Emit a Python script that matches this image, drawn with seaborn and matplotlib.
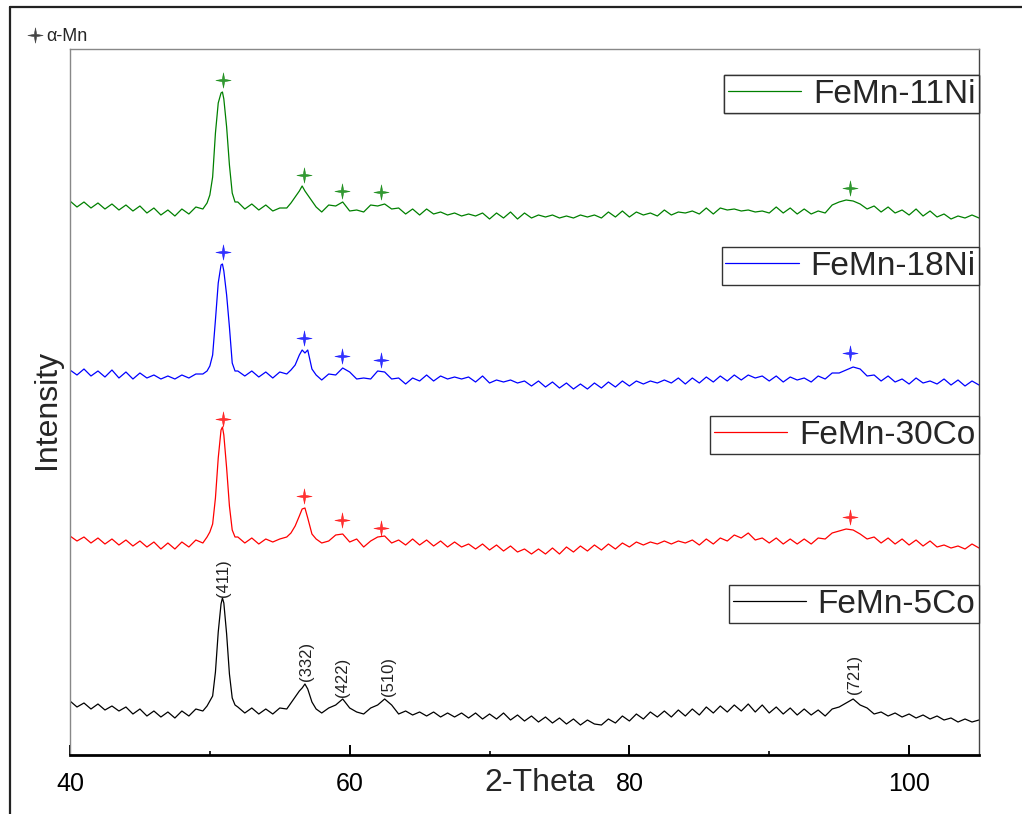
import numpy as np
import pandas as pd
import matplotlib
matplotlib.use("Agg")
import matplotlib.pyplot as plt
import seaborn as sns
from matplotlib.path import Path
from matplotlib.lines import Line2D
from matplotlib.ticker import MultipleLocator

# sample grid (2-theta, degrees)
TWO_THETA = np.round(np.concatenate([
    np.arange(40.0, 49.6, 0.5),
    [49.8, 50.0, 50.2, 50.4, 50.6, 50.8, 50.9, 51.0, 51.2, 51.4, 51.6, 51.8],
    np.arange(52.0, 55.6, 0.5),
    [55.8, 56.1, 56.4, 56.6, 56.8, 57.0, 57.3, 57.6],
    np.arange(58.0, 105.1, 0.5),
]), 1)

SAMPLES = ["FeMn-5Co", "FeMn-30Co", "FeMn-18Ni", "FeMn-11Ni"]
COLORS = ["#000000", "#ff0000", "#0000ff", "#008000"]
OFFSETS = [45, 215, 380, 550]

# intensities (relative to each pattern's own baseline)
FEMN_5CO = [
    9, 3, 7, 1, 6, 0, 4, -1, 3, -4, 1, -6, -1, -7, -2, -8, -1, -6, 1, -1,
    4, 9, 14, 38, 78, 106, 112, 107, 76, 36, 12, 5,
    3, -3, 2, -4, 1, -4, 2, 1,
    7, 13, 19, 22, 26, 21, 8, 1,
    -3, 2, 5, 11, 2, -2, -4, 2, 5, 11,
    5, -4, -1, -5, -2, -6, -2, -7, -3, -7,
    -3, -8, -3, -9, -4, -9, -3, -10, -5, -11,
    -6, -12, -7, -13, -8, -14, -9, -15, -10, -14,
    -15, -9, -13, -6, -11, -4, -9, -2, -7, -1,
    -7, 0, -6, 1, -5, 3, -3, 4, -2, 5,
    -1, 6, -2, 5, -3, 3, -4, 2, -5, 1,
    -5, 0, -6, 1, 3, 7, 11, 5, 2, -4,
    -2, -6, -3, -7, -4, -8, -5, -9, -6, -10,
    -8, -12, -9, -12, -10,
]
FEMN_30CO = [
    4, -1, 3, -3, 2, -4, 1, -5, 0, -6, -1, -7, -2, -9, -3, -9, -2, -7, 0, -3,
    3, 8, 16, 42, 82, 110, 113, 105, 72, 34, 10, 3,
    3, -3, 2, -4, 1, -2, 1, 3,
    7, 14, 24, 31, 32, 22, 6, 1,
    -3, -1, 5, 6, -2, 1, -7, -1, 3, 4,
    -3, 0, -5, 1, -5, 0, -6, -1, -7, -2,
    -7, -4, -9, -4, -10, -5, -11, -6, -12, -9,
    -14, -9, -14, -8, -14, -7, -12, -6, -11, -5,
    -10, -4, -9, -3, -7, -2, -5, -2, -4, -1,
    -4, -1, -3, 0, -5, 1, -4, 2, -1, 5,
    2, 7, 0, 2, -3, 2, -4, 1, -4, 1,
    -4, 2, 1, 7, 9, 11, 10, 6, 1, 3,
    -3, 2, -4, 1, -5, 0, -6, -1, -7, -5,
    -8, -6, -9, -4, -8,
]
FEMN_18NI = [
    5, 0, 6, -1, 4, -2, 5, -3, 3, -4, 2, -3, 0, -4, -1, -4, 0, -3, 1, 1,
    4, 9, 20, 55, 92, 110, 111, 104, 80, 48, 12, 4,
    4, -1, 4, -2, 3, -3, 3, 1,
    5, 10, 20, 25, 22, 25, 6, 0,
    -5, 1, 0, 7, 3, -4, -3, -4, 4, 3,
    -4, -3, -9, -3, -6, 0, -6, -1, -4, -2,
    -4, -2, -7, -1, -8, -5, -7, -5, -8, -6,
    -11, -6, -12, -7, -13, -8, -14, -9, -14, -8,
    -13, -7, -12, -6, -11, -6, -9, -6, -8, -5,
    -8, -3, -9, -3, -8, -2, -7, -1, -6, 0,
    -5, 0, -3, -1, -6, -1, -7, -2, -5, -3,
    -7, -1, -4, 2, 2, 5, 8, 6, -1, 0,
    -6, -1, -7, -4, -9, -3, -8, -6, -9, -4,
    -10, -5, -11, -6, -10,
]
FEMN_11NI = [
    4, -2, 3, -3, 2, -4, 1, -5, 0, -6, -1, -8, -3, -10, -5, -11, -4, -9, -2, -4,
    2, 10, 28, 72, 102, 112, 113, 106, 78, 40, 12, 3,
    3, -4, 1, -5, 0, -6, -3, -3,
    2, 8, 14, 19, 14, 10, 4, -2,
    -7, 0, -1, 3, -6, -5, -7, 0, -1, 1,
    -4, -3, -9, -4, -10, -4, -9, -7, -10, -8,
    -11, -9, -11, -8, -14, -8, -13, -7, -14, -8,
    -13, -10, -12, -10, -13, -11, -13, -10, -12, -10,
    -13, -7, -12, -6, -12, -7, -10, -8, -11, -5,
    -10, -7, -8, -6, -9, -3, -9, -3, -5, -4,
    -6, -5, -7, -6, -8, -2, -8, -3, -9, -4,
    -9, -6, -8, 0, 3, 5, 4, 1, -4, -1,
    -7, -2, -8, -5, -10, -4, -11, -6, -12, -9,
    -14, -11, -13, -10, -13,
]
PATTERNS = [FEMN_5CO, FEMN_30CO, FEMN_18NI, FEMN_11NI]

# alpha-Mn reflections
HKL = ["(411)", "(332)", "(422)", "(510)", "(721)"]
HKL_POS = [50.95, 56.9, 59.5, 62.8, 96.1]
HKL_Y = [158, 74, 58, 59, 61]
MN_POS = [50.93, 56.75, 59.45, 62.25, 95.8]
MN_Y = {
    "FeMn-30Co": [336, 259, 235, 227, 238],
    "FeMn-18Ni": [503, 417, 399, 395, 402],
    "FeMn-11Ni": [675, 580, 564, 563, 567],
}

sns.set_theme(style="white")
plt.rcParams["font.family"] = ["Liberation Sans", "DejaVu Sans"]

frames = []
for name, vals, off in zip(SAMPLES, PATTERNS, OFFSETS):
    frames.append(pd.DataFrame({"two_theta": TWO_THETA,
                                "intensity": np.array(vals) + off,
                                "sample": name}))
df = pd.concat(frames, ignore_index=True)

fig = plt.figure(figsize=(10.22, 8.14), dpi=100)
ax = fig.add_axes([70 / 1022, 59 / 814, 909 / 1022, 706 / 814])

sns.lineplot(data=df, x="two_theta", y="intensity", hue="sample",
             hue_order=SAMPLES, palette=COLORS, linewidth=0.9,
             estimator=None, ax=ax)
ax.get_legend().remove()
lines = list(ax.lines)

star = Path.unit_regular_star(4, 0.22)
for name, col in zip(SAMPLES, COLORS):
    if name in MN_Y:
        ax.plot(MN_POS, MN_Y[name], ls="none", marker=star, markersize=11,
                color=col, markeredgewidth=0.4, alpha=0.8)

for lab, xp, yp in zip(HKL, HKL_POS, HKL_Y):
    ax.text(xp, yp, lab, rotation=90, ha="center", va="bottom",
            fontsize=12, color="#222222")

ax.set_xlim(40, 105)
ax.set_ylim(0, 706)
ax.set_yticks([])
ax.xaxis.set_major_locator(MultipleLocator(20))
ax.xaxis.set_minor_locator(MultipleLocator(10))
ax.tick_params(axis="x", which="major", direction="in", length=7.5, width=1.4,
               labelsize=18, pad=12, bottom=True, colors="black")
ax.tick_params(axis="x", which="minor", direction="in", length=3, width=1.4,
               bottom=True)

for side in ["left", "top"]:
    ax.spines[side].set_color("#888888")
    ax.spines[side].set_linewidth(1.0)
ax.spines["right"].set_color("#444444")
ax.spines["right"].set_linewidth(1.0)
ax.spines["bottom"].set_color("black")
ax.spines["bottom"].set_linewidth(2.0)

ax.set_xlabel("2-Theta", fontsize=23)
ax.xaxis.label.set_va("center")
ax.xaxis.set_label_coords(0.517, -0.040)
ax.set_ylabel("Intensity", fontsize=23)
ax.yaxis.label.set_va("center")
ax.yaxis.set_label_coords(-0.025, 0.489)

# one boxed legend per pattern, right-aligned to the frame
legend_tops = {"FeMn-11Ni": 0.963, "FeMn-18Ni": 0.7195,
               "FeMn-30Co": 0.480, "FeMn-5Co": 0.2408}
for line, name in zip(lines, SAMPLES):
    leg = ax.legend([line], [name], loc="upper right",
                    bbox_to_anchor=(1.0, legend_tops[name]),
                    borderaxespad=0, fontsize=24, frameon=True,
                    fancybox=False, edgecolor="#333333", framealpha=1,
                    borderpad=0.11, handlelength=2.2, handletextpad=0.35)
    leg.get_frame().set_linewidth(1.0)
    ax.add_artist(leg)

mn_handle = Line2D([], [], ls="none", marker=star, markersize=11,
                   color="#444444", markeredgewidth=0.4)
fig.legend([mn_handle], ["α-Mn"], loc="upper left",
           bbox_to_anchor=(16 / 1022, 1 - 19 / 814), frameon=False,
           fontsize=13, handletextpad=0.1, handlelength=1.1, borderpad=0)

# outer frame of the figure
fig.add_artist(Line2D([10 / 1022, 10 / 1022], [0, 1 - 7 / 814],
                      color="#222222", linewidth=1.6))
fig.add_artist(Line2D([10 / 1022, 1], [1 - 7 / 814, 1 - 7 / 814],
                      color="#222222", linewidth=1.6))

fig.savefig("out.png", dpi=100)
